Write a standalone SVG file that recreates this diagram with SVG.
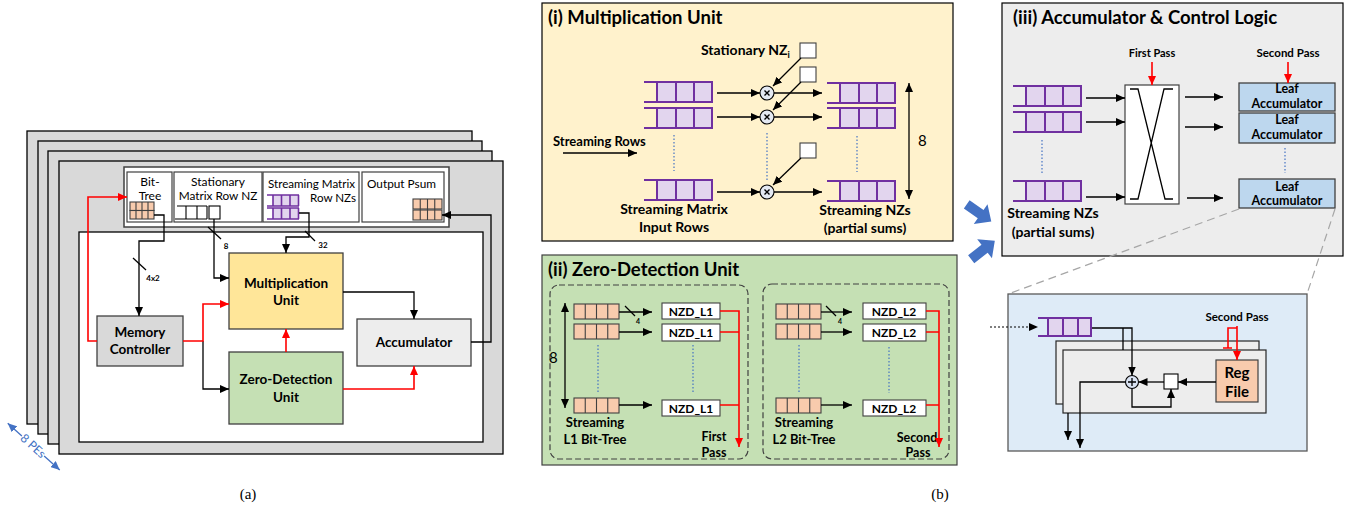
<svg xmlns="http://www.w3.org/2000/svg" xmlns:xlink="http://www.w3.org/1999/xlink" width="1353" height="512" viewBox="0 0 1353 512">
<style>
text{font-family:Lato,"Liberation Sans",sans-serif;fill:#000}
.b{font-weight:bold}
.m{text-anchor:middle}
.e{text-anchor:end}
.ln{fill:none;stroke:#000;stroke-width:1.3}
.rd{fill:none;stroke:#f00;stroke-width:1.6}
.dot{fill:none;stroke:#4472c4;stroke-width:1.2;stroke-dasharray:1.5 2}
.box{stroke:#404040;stroke-width:1.3}
.pe{fill:#d9d9d9;stroke:#000;stroke-width:1.3}
.cell{fill:#fff;stroke:#404040;stroke-width:1.2}
.ps{fill:none;stroke:#7030a0;stroke-width:2}
.pf{fill:#e2d5ee}
.or{fill:#f8cbad;stroke:#404040;stroke-width:1.1}
.ol{fill:none;stroke:#404040;stroke-width:1.1}
</style>
<defs>
<marker id="ah" viewBox="0 0 9 8" refX="9" refY="4" markerWidth="9" markerHeight="8" markerUnits="userSpaceOnUse" orient="auto-start-reverse"><path d="M0,0 L9,4 L0,8 z" fill="#000"/></marker>
<marker id="ahr" viewBox="0 0 9 8" refX="9" refY="4" markerWidth="9" markerHeight="8" markerUnits="userSpaceOnUse" orient="auto"><path d="M0,0 L9,4 L0,8 z" fill="#f00"/></marker>
<marker id="ahb" viewBox="0 0 9 8" refX="9" refY="4" markerWidth="9" markerHeight="8" markerUnits="userSpaceOnUse" orient="auto-start-reverse"><path d="M0,0 L9,4 L0,8 z" fill="#4472c4"/></marker>
<g id="pq"><rect class="pf" x="13" y="0" width="56" height="22"/><path class="ps" d="M0,1 H69 M0,21 H69 M13,1 V21 M32,1 V21 M50,1 V21 M68,1 V21"/></g>
<g id="oq"><rect class="or" x="0" y="0" width="45" height="15"/><path class="ol" d="M11.25,0 V15 M22.5,0 V15 M33.75,0 V15"/></g>
<g id="mul"><circle r="7" fill="#e4e9f2" stroke="#000" stroke-width="1.1"/><path d="M-2.5,-2.5 L2.5,2.5 M2.5,-2.5 L-2.5,2.5" stroke="#000" stroke-width="1.4"/></g>
<g id="blk"><path d="M-15,-5 L2,-5 L2,-12 L15,0 L2,12 L2,5 L-15,5 z" fill="#4472c4"/></g>
</defs>

<!-- ===== (a) ===== -->
<g id="pe-stack">
<rect class="pe" x="27" y="131" width="445" height="293"/>
<rect class="pe" x="38" y="141" width="444" height="293"/>
<rect class="pe" x="48" y="151" width="444" height="293"/>
<rect class="pe" x="59" y="161" width="444" height="293"/>
<rect x="79" y="232" width="404" height="210" fill="#fff" stroke="#000" stroke-width="1.3"/>
</g>
<g id="buffers">
<rect x="124" y="167" width="325" height="60" fill="#fff" stroke="#404040" stroke-width="1.5"/>
<rect class="cell" x="127" y="172" width="45" height="50"/>
<rect class="cell" x="174" y="172" width="88" height="50"/>
<rect class="cell" x="263" y="172" width="96" height="50"/>
<rect class="cell" x="362" y="172" width="82" height="50"/>
</g>
<g id="bit-tree">
<text class="m" x="150" y="186" font-size="12">Bit-</text>
<text class="m" x="150" y="200" font-size="12">Tree</text>
<rect class="or" x="130" y="202" width="24" height="8.5"/><rect class="or" x="130" y="210.5" width="24" height="8.5"/>
<path class="ol" d="M136,202 V219 M142,202 V219 M148,202 V219"/>
</g>
<g id="stationary-buf">
<text class="m" x="218" y="186" font-size="12">Stationary</text>
<text class="m" x="218" y="200" font-size="11.8">Matrix Row NZ</text>
<path d="M177,206 H207 M175,219 H207 M186,206 V219 M197,206 V219 M207,206 V219" fill="none" stroke="#000" stroke-width="1.1"/>
<rect x="209" y="206" width="11" height="13" fill="#fff" stroke="#000" stroke-width="1.1"/>
</g>
<g id="streaming-buf">
<text x="268" y="188" font-size="11.6">Streaming Matrix</text>
<text class="e" x="356" y="202" font-size="11.6">Row NZs</text>
<rect class="pf" x="273" y="195" width="26" height="11"/><rect class="pf" x="273" y="208" width="26" height="11"/>
<path fill="none" stroke="#7030a0" stroke-width="1.6" d="M267,195 H299 M267,206 H299 M273,195 V206 M281.5,195 V206 M290,195 V206 M298.5,195 V206 M267,208 H299 M267,219 H299 M273,208 V219 M281.5,208 V219 M290,208 V219 M298.5,208 V219"/>
</g>
<g id="output-psum">
<text x="367" y="188" font-size="11.8">Output Psum</text>
<rect class="or" x="413" y="199" width="29" height="10"/><rect class="or" x="413" y="210" width="29" height="10"/>
<path class="ol" d="M420.25,199 V220 M427.5,199 V220 M434.75,199 V220"/>
</g>
<g id="memory-controller">
<rect class="box" x="97" y="316" width="86" height="50" fill="#d9d9d9"/>
<text class="b m" x="140" y="337" font-size="13.5">Memory</text>
<text class="b m" x="140" y="354" font-size="13.5">Controller</text>
</g>
<g id="multiplication-unit">
<rect class="box" x="229" y="253" width="114" height="76" fill="#ffe699"/>
<text class="b m" x="286" y="288" font-size="13.5">Multiplication</text>
<text class="b m" x="286" y="305" font-size="13.5">Unit</text>
</g>
<g id="zero-detection-unit">
<rect class="box" x="229" y="352" width="114" height="72" fill="#c5e0b4"/>
<text class="b m" x="286" y="384" font-size="13.5">Zero-Detection</text>
<text class="b m" x="286" y="402" font-size="13.5">Unit</text>
</g>
<g id="accumulator">
<rect class="box" x="357" y="319" width="114" height="47" fill="#ededed"/>
<text class="b m" x="414" y="347" font-size="13.5">Accumulator</text>
</g>
<g id="connectors-a">
<path class="rd" d="M97,341 H88 V197 H127" marker-end="url(#ahr)"/>
<path class="ln" d="M154,215 H164 V241 H139 V316" marker-end="url(#ah)"/>
<path class="ln" d="M133,258 L146,270"/>
<text class="b m" x="153" y="281" font-size="8">4x2</text>
<path class="ln" d="M214,219 V278 H229" marker-end="url(#ah)"/>
<path class="ln" d="M208,227 L221,239"/>
<text class="b m" x="226" y="249" font-size="8">8</text>
<path class="ln" d="M299,213 H309 V237 H286 V253" marker-end="url(#ah)"/>
<path class="ln" d="M305,231 L315,241"/>
<text class="b m" x="323" y="248" font-size="8">32</text>
<path class="ln" d="M343,292 H414 V319" marker-end="url(#ah)"/>
<path class="ln" d="M471,342 H491 V215 H442" marker-end="url(#ah)"/>
<path class="ln" d="M203,341 V389 H229" marker-end="url(#ah)"/>
<path class="rd" d="M183,341 H203 V304 H229" marker-end="url(#ahr)"/>
<path class="rd" d="M286,352 V329" marker-end="url(#ahr)"/>
<path class="rd" d="M343,389 H414 V366" marker-end="url(#ahr)"/>
</g>
<g id="pes-label" transform="translate(33,446) rotate(42)">
<line x1="-34" y1="0" x2="-15" y2="0" stroke="#4472c4" stroke-width="1.3" marker-start="url(#ahb)"/>
<text class="m" x="0" y="4" font-size="12" style="fill:#4472c4">8 PEs</text>
<line x1="15" y1="0" x2="36" y2="0" stroke="#4472c4" stroke-width="1.3" marker-end="url(#ahb)"/>
</g>
<text x="248" y="499" font-size="15" text-anchor="middle" style="font-family:'Liberation Serif',serif">(a)</text>
<text x="940" y="499" font-size="15" text-anchor="middle" style="font-family:'Liberation Serif',serif">(b)</text>

<!-- ===== (i) ===== -->
<g id="panel-mult">
<rect x="542" y="3" width="411" height="238" fill="#fff2cc" stroke="#000" stroke-width="1.2"/>
<text class="b" x="548" y="24" font-size="18.5">(i) Multiplication Unit</text>
<use xlink:href="#pq" href="#pq" x="644" y="81"/>
<use xlink:href="#pq" href="#pq" x="644" y="107"/>
<use xlink:href="#pq" href="#pq" x="644" y="179"/>
<use xlink:href="#pq" href="#pq" x="827" y="82"/>
<use xlink:href="#pq" href="#pq" x="827" y="107"/>
<use xlink:href="#pq" href="#pq" x="827" y="180"/>
<use xlink:href="#mul" href="#mul" x="767" y="93"/>
<use xlink:href="#mul" href="#mul" x="767" y="117"/>
<use xlink:href="#mul" href="#mul" x="767" y="192"/>
<rect x="800" y="43" width="16" height="15" fill="#fff" stroke="#404040" stroke-width="1.1"/>
<rect x="800" y="67" width="16" height="15" fill="#fff" stroke="#404040" stroke-width="1.1"/>
<rect x="800" y="143" width="16" height="15" fill="#fff" stroke="#404040" stroke-width="1.1"/>
<text class="b" x="701" y="55" font-size="14">Stationary NZ<tspan font-size="9" dy="3">i</tspan></text>
<text class="b" x="553" y="146" font-size="13">Streaming Rows</text>
<text class="b m" x="674" y="214" font-size="14">Streaming Matrix</text>
<text class="b m" x="674" y="232" font-size="14">Input Rows</text>
<text class="b m" x="865" y="215" font-size="14">Streaming NZs</text>
<text class="b m" x="865" y="233" font-size="14">(partial sums)</text>
<text x="918" y="146" font-size="15">8</text>
</g>
<g id="connectors-i">
<path class="ln" d="M563,153 H637" marker-end="url(#ah)"/>
<path class="ln" d="M717,93 H760" marker-end="url(#ah)"/>
<path class="ln" d="M717,117 H760" marker-end="url(#ah)"/>
<path class="ln" d="M717,192 H760" marker-end="url(#ah)"/>
<path class="ln" d="M774,93 H822" marker-end="url(#ah)"/>
<path class="ln" d="M774,117 H822" marker-end="url(#ah)"/>
<path class="ln" d="M774,192 H822" marker-end="url(#ah)"/>
<path class="ln" d="M801,58 L773,86" marker-end="url(#ah)"/>
<path class="ln" d="M801,82 L773,110" marker-end="url(#ah)"/>
<path class="ln" d="M801,158 L773,185" marker-end="url(#ah)"/>
<path class="ln" d="M909,83 V199" marker-start="url(#ah)" marker-end="url(#ah)"/>
<path class="dot" d="M674,135 V171 M767,133 V180 M857,136 V172"/>
</g>

<!-- ===== (ii) ===== -->
<g id="panel-zd">
<rect x="542" y="255" width="415" height="210" fill="#c5e0b4" stroke="#404040" stroke-width="1.2"/>
<text class="b" x="548" y="276" font-size="18.5">(ii) Zero-Detection Unit</text>
<rect x="550" y="285" width="198" height="174" rx="9" fill="none" stroke="#404040" stroke-width="1.2" stroke-dasharray="6 3"/>
<rect x="763" y="284" width="186" height="175" rx="9" fill="none" stroke="#404040" stroke-width="1.2" stroke-dasharray="6 3"/>
</g>
<g id="zd-level1">
<use xlink:href="#oq" href="#oq" x="574" y="304"/>
<use xlink:href="#oq" href="#oq" x="574" y="324"/>
<use xlink:href="#oq" href="#oq" x="574" y="398"/>
<rect x="662" y="303" width="58" height="16" fill="#fff" stroke="#404040" stroke-width="1.1"/>
<rect x="662" y="324" width="58" height="17" fill="#fff" stroke="#404040" stroke-width="1.1"/>
<rect x="662" y="400" width="58" height="16" fill="#fff" stroke="#404040" stroke-width="1.1"/>
<text class="b m" x="691" y="316" font-size="12">NZD_L1</text>
<text class="b m" x="691" y="337" font-size="12">NZD_L1</text>
<text class="b m" x="691" y="413" font-size="12">NZD_L1</text>
<text class="b m" x="595" y="427" font-size="13">Streaming</text>
<text class="b m" x="595" y="444" font-size="13">L1 Bit-Tree</text>
<text class="b m" x="714" y="441" font-size="12.5">First</text>
<text class="b m" x="714" y="457" font-size="12.5">Pass</text>
<text x="549" y="363" font-size="15">8</text>
</g>
<g id="zd-level2">
<use xlink:href="#oq" href="#oq" x="776" y="304"/>
<use xlink:href="#oq" href="#oq" x="776" y="324"/>
<use xlink:href="#oq" href="#oq" x="776" y="398"/>
<rect x="863" y="303" width="63" height="16" fill="#fff" stroke="#404040" stroke-width="1.1"/>
<rect x="863" y="324" width="63" height="17" fill="#fff" stroke="#404040" stroke-width="1.1"/>
<rect x="863" y="400" width="63" height="16" fill="#fff" stroke="#404040" stroke-width="1.1"/>
<text class="b m" x="894" y="316" font-size="12">NZD_L2</text>
<text class="b m" x="894" y="337" font-size="12">NZD_L2</text>
<text class="b m" x="894" y="413" font-size="12">NZD_L2</text>
<text class="b m" x="804" y="427" font-size="13">Streaming</text>
<text class="b m" x="804" y="444" font-size="13">L2 Bit-Tree</text>
<text class="b m" x="917" y="442" font-size="12.5">Second</text>
<text class="b m" x="918" y="457" font-size="12.5">Pass</text>
</g>
<g id="connectors-ii">
<path class="ln" d="M565,303 V408" marker-start="url(#ah)" marker-end="url(#ah)"/>
<path class="ln" d="M619,312 H652" marker-end="url(#ah)"/>
<path class="ln" d="M619,332 H652" marker-end="url(#ah)"/>
<path class="ln" d="M619,405 H652" marker-end="url(#ah)"/>
<path class="ln" d="M625,306 L635,316"/>
<text class="b m" x="638" y="324" font-size="7">4</text>
<path class="rd" d="M720,311 H739 V447" marker-end="url(#ahr)"/>
<path class="rd" d="M720,332 H739 M720,405 H739"/>
<path class="ln" d="M821,312 H852" marker-end="url(#ah)"/>
<path class="ln" d="M821,332 H852" marker-end="url(#ah)"/>
<path class="ln" d="M821,405 H852" marker-end="url(#ah)"/>
<path class="ln" d="M826,306 L836,316"/>
<text class="b m" x="840" y="324" font-size="7">4</text>
<path class="rd" d="M926,311 H939 V447" marker-end="url(#ahr)"/>
<path class="rd" d="M926,332 H939 M926,405 H939"/>
<path class="dot" d="M598,345 V393 M693,345 V393 M799,345 V393 M889,347 V393"/>
</g>

<!-- blue arrows -->
<g id="flow-arrows">
<use xlink:href="#blk" href="#blk" transform="translate(979,213) rotate(35)"/>
<use xlink:href="#blk" href="#blk" transform="translate(983,250) rotate(-38)"/>
</g>

<!-- ===== (iii) ===== -->
<g id="panel-acc">
<rect x="1002" y="3" width="341" height="253" fill="#ededed" stroke="#000" stroke-width="1.2"/>
<text class="b" x="1013" y="24" font-size="18.5">(iii) Accumulator &amp; Control Logic</text>
<use xlink:href="#pq" href="#pq" x="1013" y="85"/>
<use xlink:href="#pq" href="#pq" x="1013" y="111"/>
<use xlink:href="#pq" href="#pq" x="1013" y="180"/>
<text class="b m" x="1053" y="218" font-size="14">Streaming NZs</text>
<text class="b m" x="1053" y="237" font-size="14">(partial sums)</text>
</g>
<g id="crossbar">
<rect x="1125" y="85" width="54" height="119" fill="#fff" stroke="#404040" stroke-width="1.2"/>
<path class="ln" d="M1130,89 H1138 L1165,199 H1173 M1173,89 H1164 L1138,199 H1130"/>
<text class="b m" x="1152" y="57" font-size="11">First Pass</text>
</g>
<g id="leaf-accumulators">
<rect class="box" x="1239" y="83" width="96" height="28" fill="#bdd7ee"/>
<rect class="box" x="1239" y="113" width="96" height="30" fill="#bdd7ee"/>
<rect class="box" x="1239" y="179" width="96" height="29" fill="#bdd7ee"/>
<text class="b m" x="1287" y="93" font-size="12.5">Leaf</text>
<text class="b m" x="1287" y="108" font-size="12.5">Accumulator</text>
<text class="b m" x="1287" y="124" font-size="12.5">Leaf</text>
<text class="b m" x="1287" y="139" font-size="12.5">Accumulator</text>
<text class="b m" x="1287" y="191" font-size="12.5">Leaf</text>
<text class="b m" x="1287" y="205" font-size="12.5">Accumulator</text>
<text class="b m" x="1288" y="57" font-size="11.5">Second Pass</text>
</g>
<g id="connectors-iii">
<path class="rd" d="M1152,62 V85" marker-end="url(#ahr)"/>
<path class="rd" d="M1288,62 V83" marker-end="url(#ahr)"/>
<path class="ln" d="M1086,98 H1125" marker-end="url(#ah)"/>
<path class="ln" d="M1086,122 H1125" marker-end="url(#ah)"/>
<path class="ln" d="M1086,197 H1125" marker-end="url(#ah)"/>
<path class="ln" d="M1185,97 H1223" marker-end="url(#ah)"/>
<path class="ln" d="M1185,127 H1223" marker-end="url(#ah)"/>
<path class="ln" d="M1187,198 H1223" marker-end="url(#ah)"/>
<path class="dot" d="M1042,140 V173 M1285,148 V173"/>
<path d="M1239,209 L1008,294 M1335,209 L1307,294" fill="none" stroke="#a6a6a6" stroke-width="1.2" stroke-dasharray="8 5"/>
</g>

<!-- ===== detail ===== -->
<g id="leaf-detail">
<rect x="1008" y="294" width="299" height="157" fill="#deebf7" stroke="#595959" stroke-width="1.3"/>
<rect x="1056" y="341" width="203" height="63" fill="#ededed" stroke="#262626" stroke-width="1.2"/>
<rect x="1063" y="350" width="203" height="63" fill="#ededed" stroke="#262626" stroke-width="1.2"/>
<rect class="pf" x="1048" y="317" width="44" height="20"/>
<path class="ps" d="M1038,318 H1092 M1038,336 H1092 M1048,318 V336 M1063,318 V336 M1078,318 V336 M1091,318 V336"/>
<rect x="1216" y="360" width="42" height="42" fill="#f8cbad" stroke="#404040" stroke-width="1.2"/>
<text class="b m" x="1237" y="378" font-size="15">Reg</text>
<text class="b m" x="1237" y="397" font-size="15">File</text>
<rect x="1164" y="374" width="14" height="15" fill="#fff" stroke="#000" stroke-width="1.1"/>
<circle cx="1132" cy="382" r="6.5" fill="#dae3f3" stroke="#000" stroke-width="1.1"/>
<path d="M1132,378 V386 M1128,382 H1136" stroke="#000" stroke-width="1.3"/>
<text class="b m" x="1237" y="321" font-size="11.5">Second Pass</text>
</g>
<g id="connectors-detail">
<path d="M990,327 H1038" fill="none" stroke="#000" stroke-width="1.2" stroke-dasharray="2 2" marker-end="url(#ah)"/>
<path class="ln" d="M1092,328 H1132 V375.5" marker-end="url(#ah)"/>
<path class="ln" d="M1123,328 V350"/>
<path class="ln" d="M1125.5,382 H1080 V448" marker-end="url(#ah)"/>
<path class="ln" d="M1068,413 V440" marker-end="url(#ah)"/>
<path class="ln" d="M1164,382 H1138.5" marker-end="url(#ah)"/>
<path class="ln" d="M1216,382 H1178" marker-end="url(#ah)"/>
<path class="ln" d="M1132,388.5 V407 H1171 V389" marker-end="url(#ah)"/>
<path class="rd" d="M1237,326 V360" marker-end="url(#ahr)"/>
<path class="rd" d="M1237,328 H1228 V348 M1223,348 H1232"/>
</g>
</svg>
